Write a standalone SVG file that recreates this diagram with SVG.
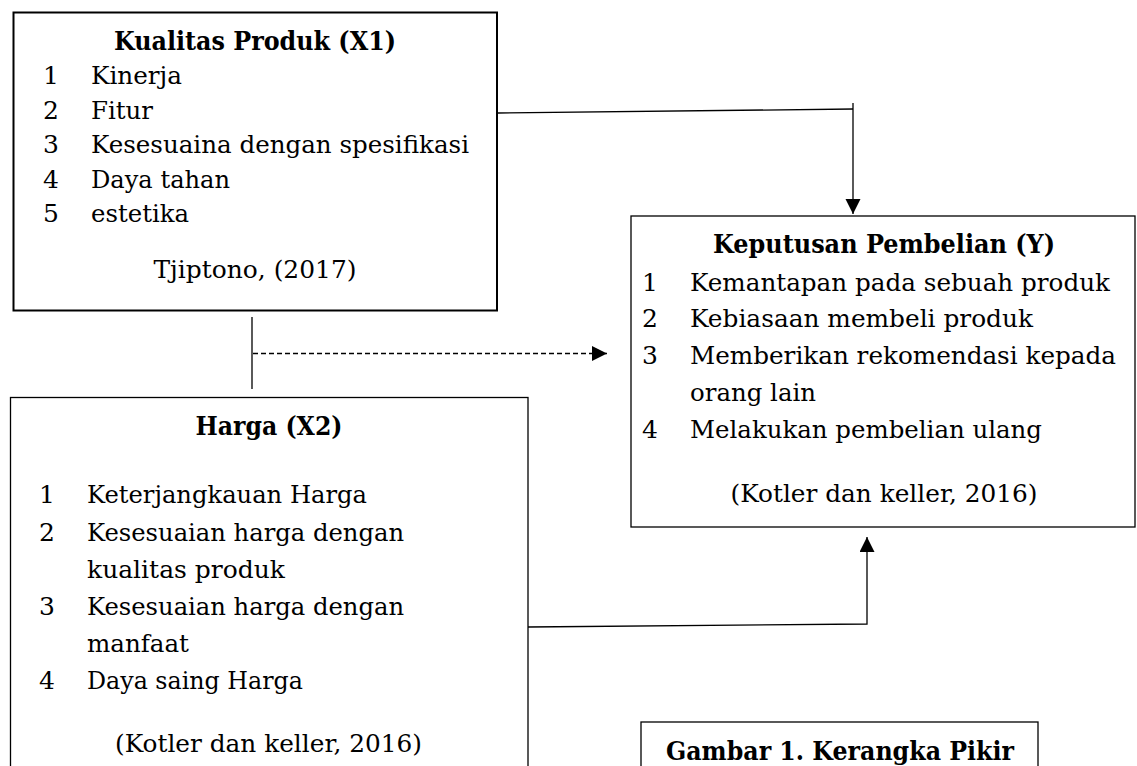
<svg xmlns="http://www.w3.org/2000/svg" width="1137" height="766" viewBox="0 0 1137 766">
<defs>
<style>
text{font-family:"DejaVu Serif","Liberation Serif",serif;font-size:25px;fill:#000}
.b{font-weight:bold;font-size:25.5px}
.m{text-anchor:middle}
.box{fill:#fff;stroke:#000;stroke-width:1.3}
.box2{fill:#fff;stroke:#000;stroke-width:2}
.ln{fill:none;stroke:#000;stroke-width:1.3}
.dash{fill:none;stroke:#000;stroke-width:1.3;stroke-dasharray:5 3}
</style>
<marker id="ah" markerUnits="userSpaceOnUse" markerWidth="16" markerHeight="16" refX="15" refY="7.5" orient="auto">
<path d="M0,0 L15,7.5 L0,15 z" fill="#000"/>
</marker>
</defs>
<rect width="1137" height="766" fill="#fff"/>

<g id="connectors">
<path class="ln" d="M498,113 L853,109"/>
<path class="ln" d="M853,103 L853,214" marker-end="url(#ah)"/>
<path class="ln" d="M252,317 L252,389"/>
<path class="dash" d="M253,353.5 L607,353.5" marker-end="url(#ah)"/>
<path class="ln" d="M528,627 L867,624 L867,537" marker-end="url(#ah)"/>
</g>

<g id="node-x1">
<rect class="box2" x="13.5" y="12.5" width="483.5" height="298"/>
<text class="b m" x="255" y="50" textLength="282" lengthAdjust="spacingAndGlyphs">Kualitas Produk (X1)</text>
<text x="43" y="84">1</text><text x="91" y="84" textLength="91" lengthAdjust="spacingAndGlyphs">Kinerja</text>
<text x="43" y="119">2</text><text x="91" y="119" textLength="62" lengthAdjust="spacingAndGlyphs">Fitur</text>
<text x="43" y="153">3</text><text x="91" y="153" textLength="378" lengthAdjust="spacingAndGlyphs">Kesesuaina dengan spesifikasi</text>
<text x="43" y="188">4</text><text x="91" y="188" textLength="139" lengthAdjust="spacingAndGlyphs">Daya tahan</text>
<text x="43" y="222">5</text><text x="91" y="222" textLength="98" lengthAdjust="spacingAndGlyphs">estetika</text>
<text class="m" x="255" y="278" textLength="203" lengthAdjust="spacingAndGlyphs">Tjiptono, (2017)</text>
</g>

<g id="node-x2">
<rect class="box" x="10.5" y="397.5" width="517.5" height="400"/>
<text class="b m" x="269" y="435" textLength="147" lengthAdjust="spacingAndGlyphs">Harga (X2)</text>
<text x="39" y="503">1</text><text x="87" y="503" textLength="280" lengthAdjust="spacingAndGlyphs">Keterjangkauan Harga</text>
<text x="39" y="541">2</text><text x="87" y="541" textLength="317" lengthAdjust="spacingAndGlyphs">Kesesuaian harga dengan</text>
<text x="87" y="578" textLength="198" lengthAdjust="spacingAndGlyphs">kualitas produk</text>
<text x="39" y="615">3</text><text x="87" y="615" textLength="317" lengthAdjust="spacingAndGlyphs">Kesesuaian harga dengan</text>
<text x="87" y="652" textLength="102" lengthAdjust="spacingAndGlyphs">manfaat</text>
<text x="39" y="689">4</text><text x="87" y="689" textLength="216" lengthAdjust="spacingAndGlyphs">Daya saing Harga</text>
<text class="m" x="268.5" y="752" textLength="307" lengthAdjust="spacingAndGlyphs">(Kotler dan keller, 2016)</text>
</g>

<g id="node-y">
<rect class="box" x="631" y="216" width="504" height="311"/>
<text class="b m" x="884" y="253" textLength="342" lengthAdjust="spacingAndGlyphs">Keputusan Pembelian (Y)</text>
<text x="642" y="291">1</text><text x="690" y="291" textLength="420" lengthAdjust="spacingAndGlyphs">Kemantapan pada sebuah produk</text>
<text x="642" y="327">2</text><text x="690" y="327" textLength="343" lengthAdjust="spacingAndGlyphs">Kebiasaan membeli produk</text>
<text x="642" y="364">3</text><text x="690" y="364" textLength="426" lengthAdjust="spacingAndGlyphs">Memberikan rekomendasi kepada</text>
<text x="690" y="401" textLength="126" lengthAdjust="spacingAndGlyphs">orang lain</text>
<text x="642" y="438">4</text><text x="690" y="438" textLength="352" lengthAdjust="spacingAndGlyphs">Melakukan pembelian ulang</text>
<text class="m" x="884" y="502" textLength="307" lengthAdjust="spacingAndGlyphs">(Kotler dan keller, 2016)</text>
</g>

<g id="caption">
<rect class="box" x="641" y="722" width="397" height="60"/>
<text class="b m" x="840" y="760" textLength="348" lengthAdjust="spacingAndGlyphs">Gambar 1. Kerangka Pikir</text>
</g>
</svg>
